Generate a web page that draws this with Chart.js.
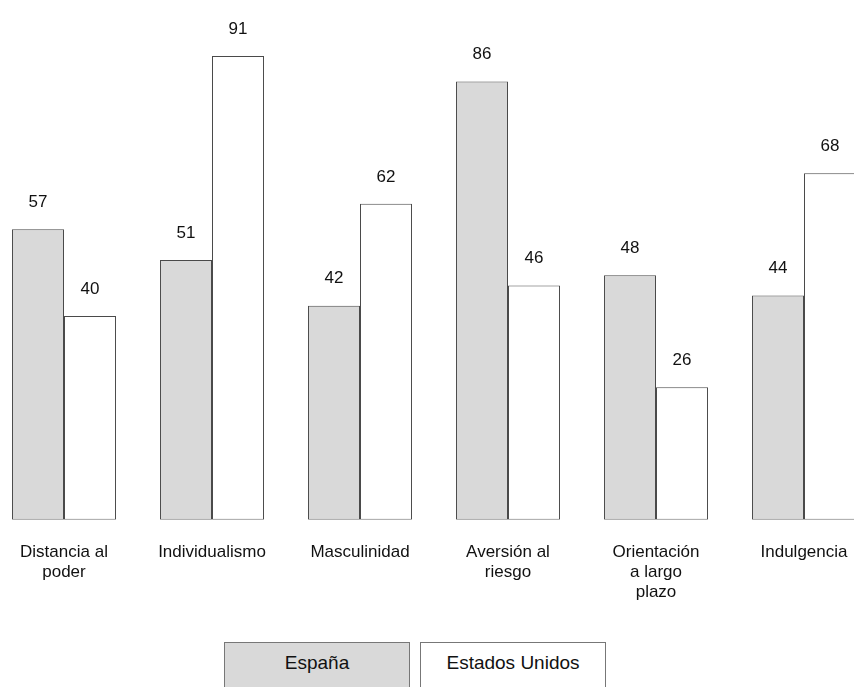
<!DOCTYPE html>
<html>
<head>
<meta charset="utf-8">
<script src="https://cdn.jsdelivr.net/npm/chart.js@4.4.0/dist/chart.umd.min.js"></script>
<style>
	html, body {
		margin: 0;
		padding: 0;
		width: 854px;
		height: 687px;
		overflow: hidden;
		background: #ffffff;
		font-family: "Liberation Sans", Arial, sans-serif;
	}
	#chartBox {
		position: absolute;
		left: -10px;
		top: 0;
		width: 888px;
		height: 617px;
	}
	#legend {
		position: absolute;
		left: 224px;
		top: 642px;
		display: flex;
		gap: 10px;
	}
	.legend-item {
		width: 186px;
		height: 50px;
		box-sizing: border-box;
		border: 1px solid #777777;
		text-align: center;
		padding-top: 9px;
		font-size: 19px;
		color: #111111;
	}
</style>
</head>
<body>
<div id="chartBox"><canvas id="chart"></canvas></div>
<div id="legend"></div>
<script>
const categories = [
	["Distancia al", "poder"],
	"Individualismo",
	"Masculinidad",
	["Aversión al", "riesgo"],
	["Orientación", "a largo", "plazo"],
	"Indulgencia",
];
const seriesNames = ["España", "Estados Unidos"];
const espana = [57, 51, 42, 86, 48, 44];
const estadosUnidos = [40, 91, 62, 46, 26, 68];

// value labels above each bar
const valueLabels = {
	id: "valueLabels",
	afterDatasetsDraw(chart) {
		const ctx = chart.ctx;
		ctx.save();
		ctx.font = "17px 'Liberation Sans', Arial, sans-serif";
		ctx.fillStyle = "#111111";
		ctx.textAlign = "center";
		ctx.textBaseline = "middle";
		chart.data.datasets.forEach((ds, i) => {
			const meta = chart.getDatasetMeta(i);
			meta.data.forEach((bar, j) => {
				ctx.fillText(ds.data[j], bar.x, bar.y - 27);
			});
		});
		ctx.restore();
	},
};

const chart = new Chart(document.getElementById("chart"), {
	type: "bar",
	data: {
		labels: categories,
		datasets: [
			{
				label: seriesNames[0],
				data: espana,
				backgroundColor: "#d9d9d9",
				borderColor: "#4a4a4a",
				borderWidth: 1,
				borderSkipped: false,
			},
			{
				label: seriesNames[1],
				data: estadosUnidos,
				backgroundColor: "#ffffff",
				borderColor: "#4a4a4a",
				borderWidth: 1,
				borderSkipped: false,
			},
		],
	},
	options: {
		responsive: true,
		maintainAspectRatio: false,
		animation: false,
		layout: { padding: 0 },
		datasets: {
			bar: {
				categoryPercentage: 0.703,
				barPercentage: 1,
			},
		},
		plugins: {
			legend: { display: false },
			tooltip: { enabled: false },
		},
		scales: {
			x: {
				grid: { display: false },
				border: { display: false },
				ticks: {
					autoSkip: false,
					maxRotation: 0,
					padding: 14,
					color: "#111111",
					font: { family: "'Liberation Sans', Arial, sans-serif", size: 17 },
				},
			},
			y: {
				display: false,
				min: 0,
				max: 102,
			},
		},
	},
	plugins: [valueLabels],
});

// boxed legend built from the datasets
const legend = document.getElementById("legend");
for (const ds of chart.data.datasets) {
	const item = document.createElement("div");
	item.className = "legend-item";
	item.style.background = ds.backgroundColor;
	item.textContent = ds.label;
	legend.appendChild(item);
}
</script>
</body>
</html>
